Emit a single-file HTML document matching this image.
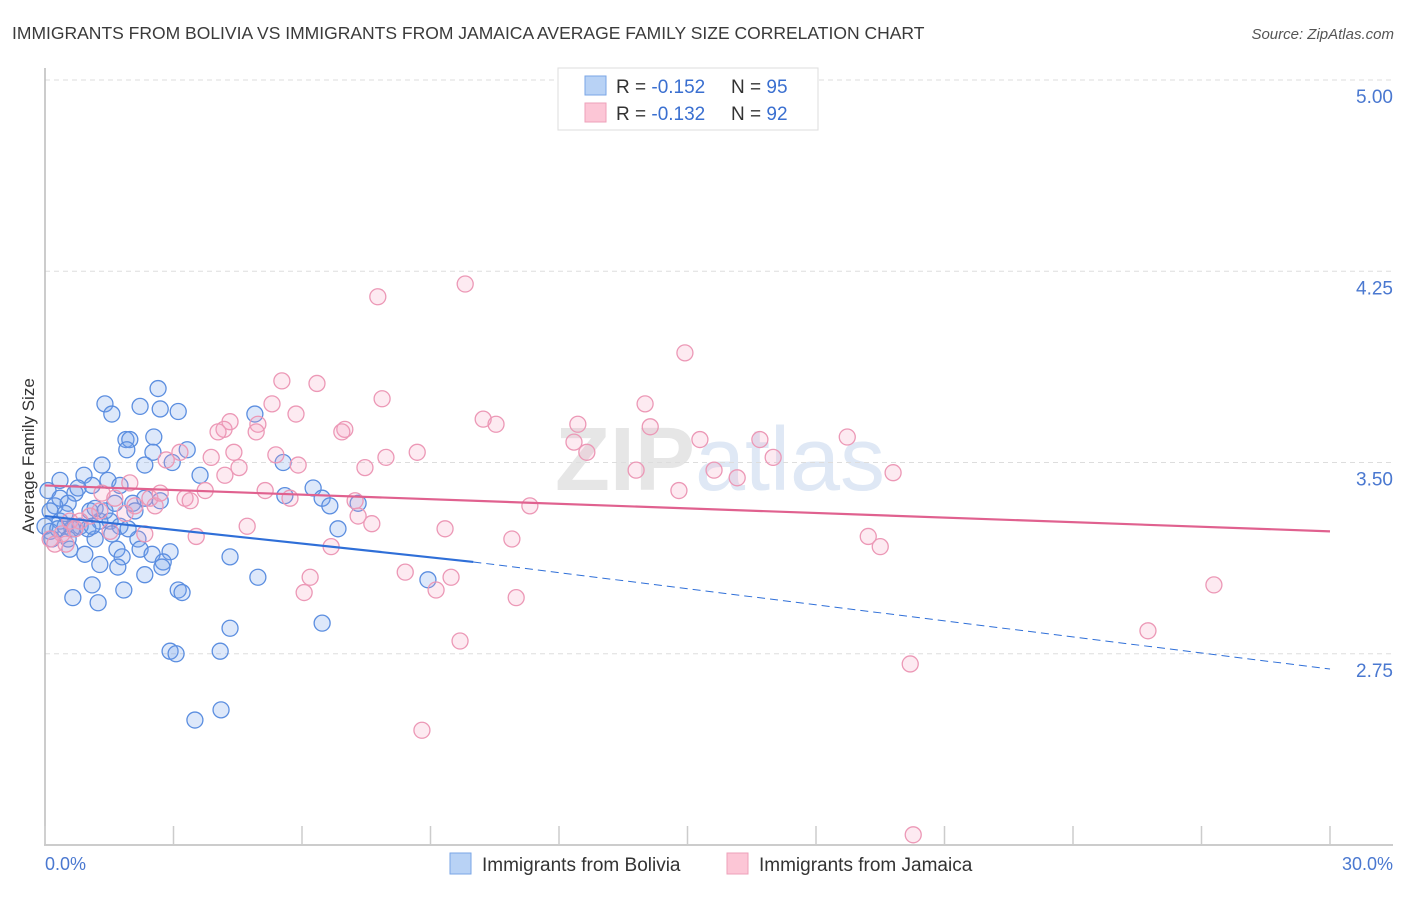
<!DOCTYPE html>
<html><head><meta charset="utf-8">
<style>
body{margin:0;background:#fff;font-family:"Liberation Sans",sans-serif;}
svg text{font-family:"Liberation Sans",sans-serif;}
</style></head>
<body>
<svg id="chart" width="1406" height="892" xmlns="http://www.w3.org/2000/svg">
<text x="12" y="39" font-size="17.5" fill="#3a3a3a">IMMIGRANTS FROM BOLIVIA VS IMMIGRANTS FROM JAMAICA AVERAGE FAMILY SIZE CORRELATION CHART</text>
<text x="1394" y="39" font-size="15" fill="#555" font-style="italic" text-anchor="end">Source: ZipAtlas.com</text>
<text x="720" y="490" font-size="90" fill="#e6e6e6" text-anchor="middle" font-family="Liberation Serif" font-weight="bold">ZIP<tspan fill="#dfe8f5" font-family="Liberation Sans" font-weight="normal">atlas</tspan></text>
<g id="grid"></g>
<g id="axes"></g>
<g id="pts"></g>
<g id="trends"></g>
<text transform="translate(34,456) rotate(-90)" font-size="17" fill="#333" text-anchor="middle">Average Family Size</text>
<text x="45" y="870" font-size="18" fill="#4a78d0">0.0%</text>
<text x="1393" y="870" font-size="18" fill="#4a78d0" text-anchor="end">30.0%</text>
<g>
<rect x="558" y="68" width="260" height="62" fill="#fff" stroke="#ddd"/>
<rect x="585" y="76" width="21" height="19" fill="#b8d2f5" stroke="#7aa6e6"/>
<rect x="585" y="103" width="21" height="19" fill="#fcc6d6" stroke="#eea0ba"/>
<text x="616" y="93" font-size="19" fill="#333">R = <tspan fill="#3a6fd0">-0.152</tspan><tspan x="731">N = </tspan><tspan fill="#3a6fd0">95</tspan></text>
<text x="616" y="120" font-size="19" fill="#333">R = <tspan fill="#3a6fd0">-0.132</tspan><tspan x="731">N = </tspan><tspan fill="#3a6fd0">92</tspan></text>
</g>
<g>
<rect x="450" y="853" width="21" height="21" fill="#b8d2f5" stroke="#7aa6e6"/>
<text x="482" y="871" font-size="19" fill="#333">Immigrants from Bolivia</text>
<rect x="727" y="853" width="21" height="21" fill="#fcc6d6" stroke="#eea0ba"/>
<text x="759" y="871" font-size="19" fill="#333">Immigrants from Jamaica</text>
</g>
</svg>
<script>
const yTicks=[5.00,4.25,3.50,2.75];
const xTicks=[0,3,6,9,12,15,18,21,24,27,30];
const boliviaX=[1.40,1.56,2.22,2.69,3.11,2.64,1.89,1.98,2.54,1.91,2.52,3.32,2.33,1.33,1.47,0.91,0.35,0.07,0.35,0.70,1.10,0.77,0.54,0.23,0.12,0.35,0.47,0.63,1.05,1.28,1.17,1.40,1.63,2.05,2.33,1.75,2.69,2.97,3.62,4.90,5.56,5.60,6.26,6.47,6.65,6.84,7.31,0.12,0.00,0.16,0.58,0.93,1.17,1.68,1.80,1.70,1.28,2.17,2.22,2.50,2.92,2.76,2.73,2.33,1.10,1.84,0.65,1.24,3.11,3.20,4.32,4.97,6.47,4.32,2.92,3.06,4.09,3.50,4.11,8.94,0.47,0.82,1.52,0.30,0.70,1.00,1.75,0.54,1.10,1.56,1.94,2.10];
const boliviaY=[3.73,3.69,3.72,3.71,3.70,3.79,3.59,3.59,3.60,3.55,3.54,3.55,3.49,3.49,3.43,3.45,3.43,3.39,3.36,3.38,3.41,3.40,3.34,3.33,3.31,3.27,3.25,3.24,3.31,3.27,3.32,3.31,3.34,3.34,3.36,3.41,3.35,3.50,3.45,3.69,3.50,3.37,3.40,3.36,3.33,3.24,3.34,3.23,3.25,3.20,3.16,3.14,3.20,3.16,3.13,3.09,3.10,3.20,3.16,3.14,3.15,3.11,3.09,3.06,3.02,3.00,2.97,2.95,3.00,2.99,3.13,3.05,2.87,2.85,2.76,2.75,2.76,2.49,2.53,3.04,3.30,3.25,3.27,3.24,3.24,3.24,3.25,3.20,3.25,3.22,3.24,3.31];
const jamaicaX=[9.81,7.77,14.94,5.53,6.35,7.87,5.30,5.86,4.32,4.97,10.23,10.53,12.44,14.01,14.13,7.00,6.93,4.93,4.18,4.04,4.41,3.88,4.53,3.15,2.83,5.39,5.91,7.47,7.96,8.69,12.35,12.65,15.29,16.69,17.00,18.73,13.80,15.62,16.16,19.80,14.80,11.32,9.34,10.90,19.22,19.50,6.68,6.19,8.41,9.48,9.13,6.05,11.00,27.29,9.69,25.75,20.20,8.80,20.27,1.98,2.10,1.33,1.63,1.28,1.05,0.82,0.58,0.40,0.12,0.23,0.49,0.70,2.45,2.57,3.27,3.39,3.74,3.53,2.33,1.87,5.14,5.72,4.72,7.31,7.63,7.24,4.20,2.69,1.52];
const jamaicaY=[4.20,4.15,3.93,3.82,3.81,3.75,3.73,3.69,3.66,3.65,3.67,3.65,3.65,3.73,3.64,3.63,3.62,3.62,3.63,3.62,3.54,3.52,3.48,3.54,3.51,3.53,3.49,3.48,3.52,3.54,3.58,3.54,3.59,3.59,3.52,3.60,3.47,3.47,3.44,3.46,3.39,3.33,3.24,3.20,3.21,3.17,3.17,3.05,3.07,3.05,3.00,2.99,2.97,3.02,2.80,2.84,2.71,2.45,2.04,3.42,3.33,3.38,3.36,3.31,3.29,3.27,3.27,3.22,3.20,3.18,3.18,3.24,3.36,3.33,3.36,3.35,3.39,3.21,3.22,3.30,3.39,3.36,3.25,3.29,3.26,3.35,3.45,3.38,3.23];
const boliviaTrendX=[0,10,30];
const boliviaTrendY=[3.29,3.11,2.69];
const jamaicaTrendX=[0,30];
const jamaicaTrendY=[3.41,3.23];

const NS="http://www.w3.org/2000/svg";
const sx=v=>45+v/30*1285;
const sy=v=>80+(5-v)*255;
function mk(tag,parent,attrs){const e=document.createElementNS(NS,tag);for(const k in attrs)e.setAttribute(k,attrs[k]);document.getElementById(parent).appendChild(e);return e;}

yTicks.forEach(t=>{
  const l=mk('line','grid',{x1:45,x2:1393,y1:sy(t),y2:sy(t),stroke:'#ddd','stroke-dasharray':'5,4'});
  
  
  const tx=mk('text','grid',{x:1393,y:sy(t)+23,'font-size':19,fill:'#4a78d0','text-anchor':'end'});
  tx.textContent=t.toFixed(2);
  
  
});
const ya=mk('line','axes',{x1:45,x2:45,y1:68,y2:845,stroke:'#bbb','stroke-width':1.5});


const xa=mk('line','axes',{x1:44,x2:1393,y1:845,y2:845,stroke:'#bbb','stroke-width':1.5});


xTicks.forEach(t=>{
  const l=mk('line','axes',{x1:sx(t),x2:sx(t),y1:826,y2:845,stroke:'#ccc','stroke-width':1.5});
  
  
});
function pts(xs,ys,fill,stroke,name){
  xs.forEach((x,i)=>{
    const c=mk('circle','pts',{cx:sx(x),cy:sy(ys[i]),r:8,fill:fill,stroke:stroke,'stroke-width':1.3});
    
    
  });
}
pts(boliviaX,boliviaY,'rgba(120,165,235,0.25)','#5b8ee0','bolivia-point');
pts(jamaicaX,jamaicaY,'rgba(245,160,190,0.22)','#ec98b6','jamaica-point');
const bt1=mk('line','trends',{x1:sx(boliviaTrendX[0]),y1:sy(boliviaTrendY[0]),x2:sx(boliviaTrendX[1]),y2:sy(boliviaTrendY[1]),stroke:'#2f6fd8','stroke-width':2.2});


const bt2=mk('line','trends',{x1:sx(boliviaTrendX[1]),y1:sy(boliviaTrendY[1]),x2:sx(boliviaTrendX[2]),y2:sy(boliviaTrendY[2]),stroke:'#2f6fd8','stroke-width':1,'stroke-dasharray':'8,5'});


const jt=mk('line','trends',{x1:sx(jamaicaTrendX[0]),y1:sy(jamaicaTrendY[0]),x2:sx(jamaicaTrendX[1]),y2:sy(jamaicaTrendY[1]),stroke:'#e0618f','stroke-width':2.2});


</script>
</body></html>
